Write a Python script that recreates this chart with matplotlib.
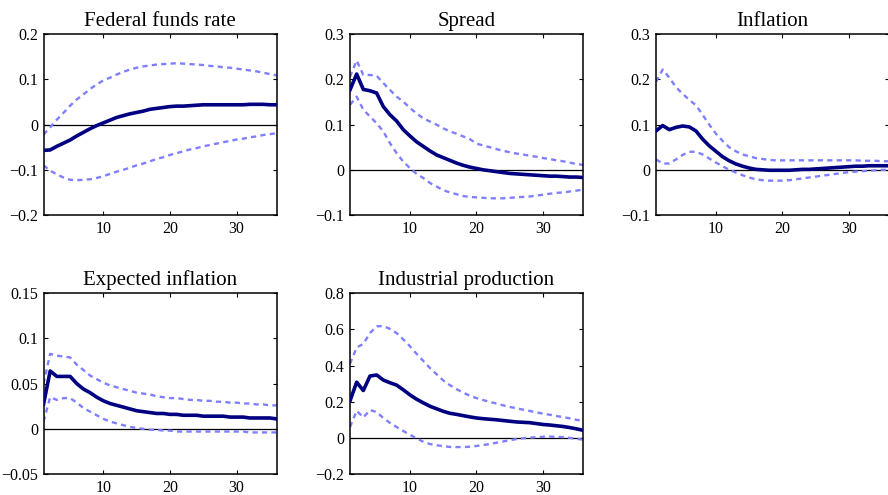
import matplotlib
matplotlib.use("Agg")
import matplotlib.pyplot as plt
from matplotlib.ticker import FuncFormatter
import numpy as np

plt.rcParams['font.family'] = ['Liberation Serif', 'DejaVu Serif']

horizon = np.arange(1, 37)

titles = ['Federal funds rate', 'Spread', 'Inflation',
          'Expected inflation', 'Industrial production']

# y limits and ticks
ylims = [(-0.2, 0.2), (-0.1, 0.3), (-0.1, 0.3), (-0.05, 0.15), (-0.2, 0.8)]
yticks = [[-0.2, -0.1, 0, 0.1, 0.2],
          [-0.1, 0, 0.1, 0.2, 0.3],
          [-0.1, 0, 0.1, 0.2, 0.3],
          [-0.05, 0, 0.05, 0.1, 0.15],
          [-0.2, 0, 0.2, 0.4, 0.6, 0.8]]
xticks = [10, 20, 30]

# Federal funds rate
ffr_mid = [-0.057, -0.056, -0.048, -0.041, -0.034, -0.025, -0.017, -0.009, -0.002, 0.004,
           0.010, 0.016, 0.020, 0.024, 0.027, 0.030, 0.034, 0.036, 0.038, 0.040,
           0.041, 0.041, 0.042, 0.043, 0.044, 0.044, 0.044, 0.044, 0.044, 0.044,
           0.044, 0.045, 0.045, 0.045, 0.044, 0.044]
ffr_hi = [-0.022, -0.006, 0.011, 0.026, 0.042, 0.056, 0.067, 0.079, 0.089, 0.098,
          0.104, 0.111, 0.117, 0.122, 0.126, 0.129, 0.131, 0.133, 0.134, 0.135,
          0.136, 0.135, 0.134, 0.133, 0.132, 0.130, 0.129, 0.127, 0.126, 0.124,
          0.122, 0.120, 0.118, 0.115, 0.112, 0.109]
ffr_lo = [-0.090, -0.102, -0.110, -0.117, -0.122, -0.123, -0.122, -0.121, -0.118, -0.114,
          -0.109, -0.104, -0.100, -0.095, -0.090, -0.086, -0.081, -0.076, -0.072, -0.067,
          -0.063, -0.059, -0.055, -0.052, -0.048, -0.045, -0.042, -0.039, -0.036, -0.033,
          -0.031, -0.028, -0.026, -0.023, -0.021, -0.019]

# Spread
spr_mid = [0.177, 0.212, 0.178, 0.175, 0.170, 0.140, 0.122, 0.108, 0.089, 0.075,
           0.062, 0.052, 0.042, 0.033, 0.027, 0.021, 0.015, 0.010, 0.006, 0.003,
           0.000, -0.002, -0.004, -0.006, -0.008, -0.009, -0.010, -0.011, -0.012, -0.013,
           -0.014, -0.014, -0.015, -0.016, -0.016, -0.017]
spr_hi = [0.206, 0.242, 0.210, 0.210, 0.208, 0.192, 0.177, 0.162, 0.151, 0.137,
          0.125, 0.114, 0.107, 0.100, 0.092, 0.085, 0.080, 0.074, 0.068, 0.058,
          0.054, 0.050, 0.046, 0.042, 0.039, 0.036, 0.034, 0.031, 0.029, 0.026,
          0.024, 0.021, 0.019, 0.016, 0.013, 0.011]
spr_lo = [0.144, 0.162, 0.133, 0.118, 0.103, 0.085, 0.059, 0.037, 0.018, 0.004,
          -0.009, -0.018, -0.029, -0.037, -0.045, -0.050, -0.054, -0.058, -0.060, -0.061,
          -0.062, -0.063, -0.063, -0.063, -0.062, -0.061, -0.060, -0.059, -0.057, -0.055,
          -0.053, -0.051, -0.050, -0.048, -0.046, -0.044]

# Inflation
inf_mid = [0.086, 0.098, 0.089, 0.094, 0.097, 0.095, 0.086, 0.068, 0.053, 0.041,
           0.029, 0.020, 0.013, 0.008, 0.004, 0.001, 0.000, -0.001, -0.001, -0.001,
           -0.001, 0.000, 0.001, 0.001, 0.002, 0.003, 0.004, 0.005, 0.006, 0.007,
           0.008, 0.008, 0.009, 0.009, 0.009, 0.009]
inf_hi = [0.195, 0.222, 0.204, 0.183, 0.168, 0.155, 0.143, 0.122, 0.100, 0.080,
          0.064, 0.050, 0.041, 0.034, 0.030, 0.026, 0.024, 0.022, 0.021, 0.021,
          0.021, 0.021, 0.021, 0.021, 0.021, 0.021, 0.021, 0.021, 0.021, 0.021,
          0.021, 0.020, 0.020, 0.020, 0.019, 0.019]
inf_lo = [0.023, 0.014, 0.014, 0.023, 0.033, 0.040, 0.040, 0.034, 0.025, 0.016,
          0.008, 0.000, -0.006, -0.012, -0.017, -0.021, -0.023, -0.024, -0.024, -0.024,
          -0.023, -0.021, -0.019, -0.017, -0.015, -0.013, -0.011, -0.009, -0.007, -0.005,
          -0.004, -0.003, -0.002, -0.001, 0.000, 0.000]

# Expected inflation
exp_mid = [0.027, 0.064, 0.058, 0.058, 0.058, 0.050, 0.044, 0.040, 0.035, 0.031,
           0.028, 0.026, 0.024, 0.022, 0.020, 0.019, 0.018, 0.017, 0.017, 0.016,
           0.016, 0.015, 0.015, 0.015, 0.014, 0.014, 0.014, 0.014, 0.013, 0.013,
           0.013, 0.012, 0.012, 0.012, 0.012, 0.011]
exp_hi = [0.050, 0.083, 0.081, 0.080, 0.079, 0.071, 0.065, 0.059, 0.055, 0.051,
          0.048, 0.046, 0.044, 0.042, 0.040, 0.039, 0.038, 0.036, 0.035, 0.034,
          0.034, 0.033, 0.032, 0.032, 0.031, 0.031, 0.030, 0.030, 0.029, 0.029,
          0.028, 0.028, 0.027, 0.027, 0.026, 0.026]
exp_lo = [0.008, 0.035, 0.032, 0.034, 0.034, 0.029, 0.023, 0.019, 0.015, 0.011,
          0.008, 0.006, 0.004, 0.002, 0.001, 0.000, -0.001, -0.001, -0.002, -0.002,
          -0.003, -0.003, -0.003, -0.003, -0.003, -0.003, -0.003, -0.003, -0.003, -0.003,
          -0.003, -0.004, -0.004, -0.004, -0.004, -0.004]

# Industrial production
ip_mid = [0.205, 0.308, 0.262, 0.342, 0.348, 0.320, 0.305, 0.292, 0.266, 0.238,
          0.214, 0.194, 0.175, 0.161, 0.147, 0.136, 0.130, 0.123, 0.116, 0.110,
          0.106, 0.103, 0.100, 0.096, 0.092, 0.088, 0.086, 0.084, 0.079, 0.074,
          0.071, 0.067, 0.063, 0.057, 0.050, 0.042]
ip_hi = [0.410, 0.500, 0.520, 0.580, 0.617, 0.619, 0.603, 0.580, 0.545, 0.507,
         0.465, 0.426, 0.387, 0.352, 0.318, 0.292, 0.270, 0.250, 0.233, 0.220,
         0.209, 0.199, 0.190, 0.180, 0.171, 0.164, 0.156, 0.149, 0.141, 0.134,
         0.128, 0.121, 0.115, 0.108, 0.100, 0.093]
ip_lo = [0.060, 0.150, 0.113, 0.154, 0.143, 0.110, 0.083, 0.060, 0.038, 0.017,
         -0.003, -0.021, -0.034, -0.041, -0.046, -0.050, -0.051, -0.051, -0.049, -0.045,
         -0.040, -0.034, -0.027, -0.020, -0.013, -0.007, -0.002, 0.001, 0.004, 0.006,
         0.007, 0.006, 0.004, 0.000, -0.005, -0.010]

mids = [ffr_mid, spr_mid, inf_mid, exp_mid, ip_mid]
his = [ffr_hi, spr_hi, inf_hi, exp_hi, ip_hi]
los = [ffr_lo, spr_lo, inf_lo, exp_lo, ip_lo]

W, H = 888, 495
fig = plt.figure(figsize=(W / 100, H / 100), dpi=100)

# panel boxes in pixels: left, top
boxes = [(43.5, 34.3), (350, 34.3), (656, 34.3), (43.5, 293.3), (350, 293.3)]
bw, bh = 233, 180.7

fmt = FuncFormatter(lambda v, p: ('%g' % round(v, 4)).replace('-', '\u2212'))

for i in range(5):
    l, t = boxes[i]
    ax = fig.add_axes([l / W, (H - t - bh) / H, bw / W, bh / H])
    ax.axhline(0, color='black', lw=0.9, zorder=1)
    ax.plot(horizon, his[i], color='#7f7fff', lw=1.7, ls=(0, (2.2, 1.8)), zorder=2)
    ax.plot(horizon, los[i], color='#7f7fff', lw=1.7, ls=(0, (2.2, 1.8)), zorder=2)
    ax.plot(horizon, mids[i], color='#000080', lw=2.6, zorder=3)
    ax.set_xlim(1, 36)
    ax.set_ylim(*ylims[i])
    ax.set_xticks(xticks)
    ax.set_yticks(yticks[i])
    ax.yaxis.set_major_formatter(fmt)
    ax.tick_params(direction='in', top=True, right=True, length=3, width=0.8,
                   labelsize=11.5, pad=4)
    for s in ax.spines.values():
        s.set_linewidth(1.1)
    ax.set_title(titles[i], fontsize=15, pad=6)

fig.savefig('out.png', dpi=100)
